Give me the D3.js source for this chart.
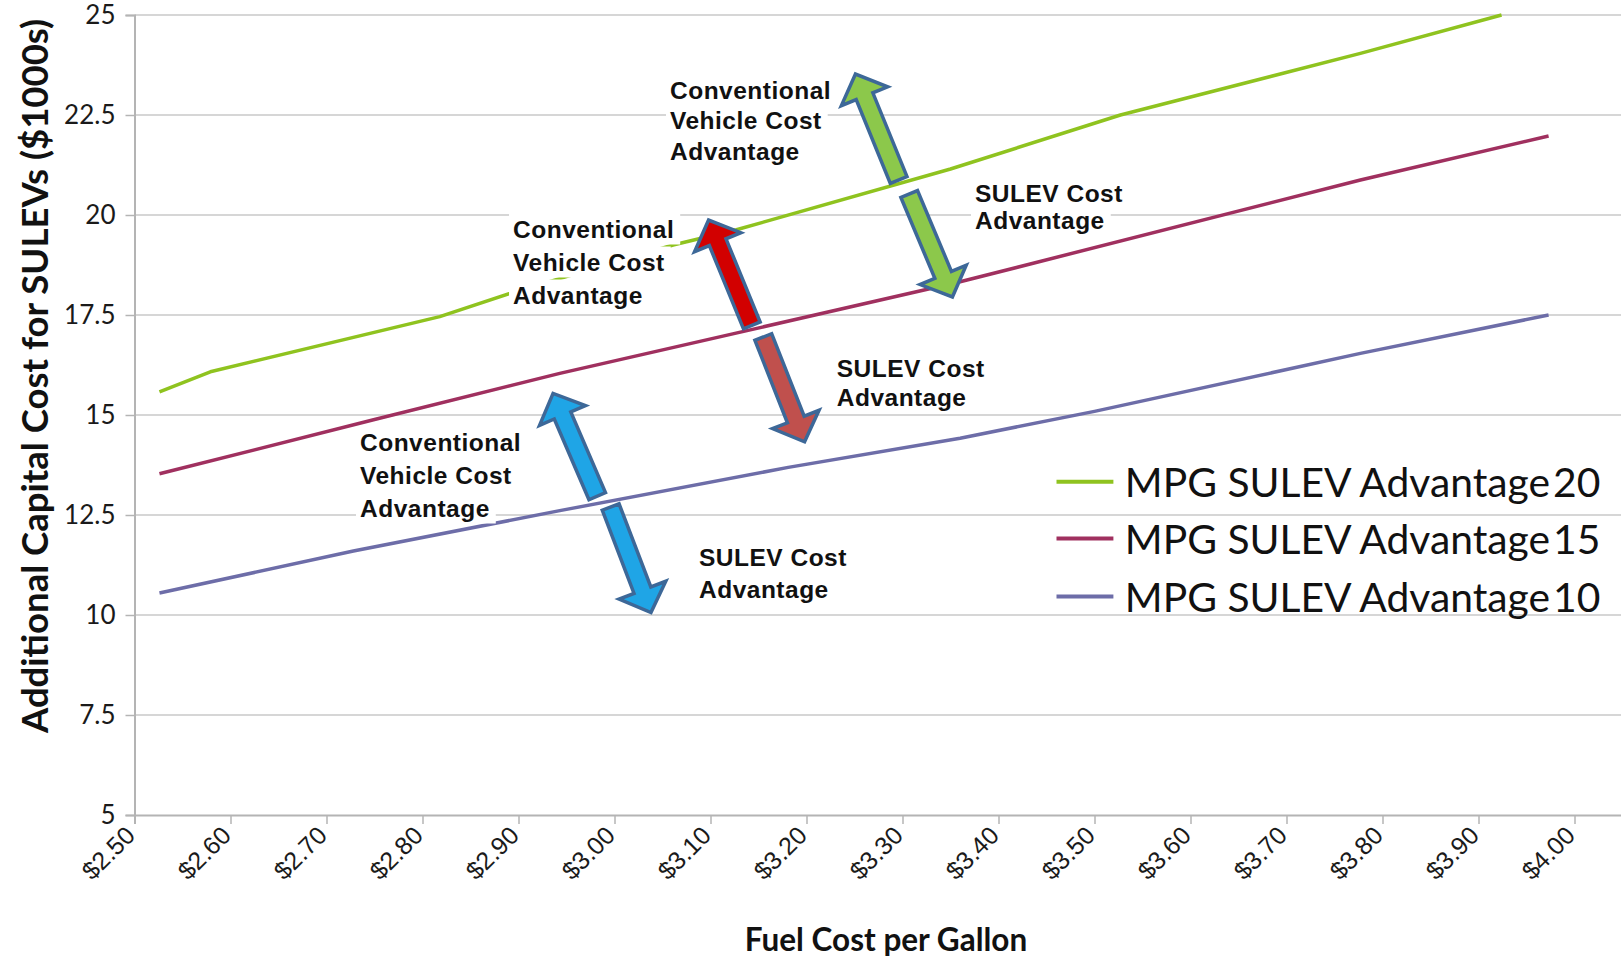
<!DOCTYPE html>
<html>
<head>
<meta charset="utf-8">
<script src="https://cdn.jsdelivr.net/npm/d3@7"></script>
<style>
  html, body { margin: 0; padding: 0; background: #fff; }
  svg { display: block; }
</style>
</head>
<body>
<svg id="chart" width="1621" height="958"></svg>
<script>
// ---- data -------------------------------------------------------------
const priceTicks = [2.5, 2.6, 2.7, 2.8, 2.9, 3.0, 3.1, 3.2, 3.3, 3.4, 3.5, 3.6, 3.7, 3.8, 3.9, 4.0];
const costTicks = [5, 7.5, 10, 12.5, 15, 17.5, 20, 22.5, 25];

const mpg20Price = [2.526, 2.579, 2.818, 2.891, 3.061, 3.127, 3.35, 3.527, 3.777, 3.924];
const mpg20Cost  = [15.58, 16.08, 17.46, 18.04, 19.25, 19.63, 21.15, 22.5, 24.04, 25.0];

const mpg15Price = [2.526, 2.749, 2.943, 3.138, 3.36, 3.777, 3.973];
const mpg15Cost  = [13.53, 14.88, 16.04, 17.11, 18.33, 20.875, 21.975];

const mpg10Price = [2.526, 2.728, 2.943, 3.181, 3.36, 3.5, 3.777, 3.973];
const mpg10Cost  = [10.55, 11.6, 12.61, 13.69, 14.42, 15.09, 16.54, 17.5];

const seriesBase = "MPG SULEV Advantage";
const seriesMpg = ["20", "15", "10"];

// annotation arrows: [price, cost] of tail and head
const arrowFrom = [[3.296, 20.875], [3.307, 20.525], [3.143, 17.24], [3.155, 16.95], [2.982, 12.97], [2.996, 12.70]];
const arrowTo   = [[3.251, 23.525], [3.352, 17.95], [3.098, 19.875], [3.198, 14.33], [2.936, 15.54], [3.038, 10.06]];

// annotation notes: text lines, anchored at [price, cost] of first baseline
const noteLines = [
  ["Conventional", "Vehicle Cost", "Advantage"],
  ["Conventional", "Vehicle Cost", "Advantage"],
  ["Conventional", "Vehicle Cost", "Advantage"],
  ["SULEV Cost", "Advantage"],
  ["SULEV Cost", "Advantage"],
  ["SULEV Cost", "Advantage"]
];
const noteAt = [[3.0578, 22.9125], [2.8943, 19.4375], [2.7349, 14.1125], [3.3755, 20.33], [3.2315, 15.95], [3.088, 11.225]];

// ---- layout & style ---------------------------------------------------
const lineColors = ["#8fc31f", "#a0305f", "#6d6da8"];
const arrowFills = ["#8cc84b", "#8cc84b", "#d20000", "#c0504d", "#1fa5e6", "#1fa5e6"];
const noteLeading = [30.5, 33, 33, 27, 29, 32];

const svg = d3.select("#chart");
const plotLeft = 134.5, plotTop = 15, plotBottom = 815, plotRight = 1621;

const x = d3.scaleLinear().domain([2.5, 4.05]).range([plotLeft, plotLeft + 1.55 * 960]);
const y = d3.scaleLinear().domain([5, 25]).range([plotBottom, plotTop]);

// gridlines
svg.append("g")
  .selectAll("line")
  .data(costTicks.filter(d => d > 5))
  .join("line")
  .attr("x1", plotLeft).attr("x2", plotRight)
  .attr("y1", d => y(d)).attr("y2", d => y(d))
  .attr("stroke", "#c9c9c9").attr("stroke-width", 1.5);

// y axis
const yAxis = svg.append("g")
  .attr("transform", `translate(${plotLeft},0)`)
  .call(d3.axisLeft(y).tickValues(costTicks).tickSize(9).tickPadding(10).tickFormat(d3.format("")));
yAxis.select(".domain").attr("stroke", "#b4b4b4").attr("stroke-width", 2);
yAxis.selectAll(".tick line").attr("stroke", "#b4b4b4").attr("stroke-width", 1.5);
yAxis.selectAll(".tick text")
  .attr("font-family", "Lato, 'Open Sans', sans-serif")
  .attr("font-size", 26).attr("fill", "#1a1a1a");

// x axis
const xAxis = svg.append("g")
  .attr("transform", `translate(0,${plotBottom})`)
  .call(d3.axisBottom(x).tickValues(priceTicks).tickSize(9).tickFormat(() => ""));
xAxis.select(".domain").attr("stroke", "#b4b4b4").attr("stroke-width", 2);
xAxis.selectAll(".tick line").attr("stroke", "#b4b4b4").attr("stroke-width", 1.5);

svg.append("g")
  .selectAll("text")
  .data(priceTicks)
  .join("text")
  .attr("transform", d => `translate(${x(d) + 2},${plotBottom + 22}) rotate(-45)`)
  .attr("text-anchor", "end")
  .attr("font-family", "'Liberation Sans', Arial, sans-serif")
  .attr("font-size", 25).attr("fill", "#1a1a1a")
  .text(d => d3.format("$.2f")(d));

// axis titles
svg.append("text")
  .attr("x", 886).attr("y", 951)
  .attr("text-anchor", "middle")
  .attr("font-family", "Lato, sans-serif").attr("font-weight", 700)
  .attr("font-size", 31.5).attr("fill", "#111")
  .text("Fuel Cost per Gallon");

svg.append("text")
  .attr("transform", "translate(48,376) rotate(-90)")
  .attr("text-anchor", "middle")
  .attr("font-family", "Lato, sans-serif").attr("font-weight", 700)
  .attr("font-size", 36.5).attr("fill", "#111")
  .text("Additional Capital Cost for SULEVs ($1000s)");

// series lines
const series = [
  d3.zip(mpg20Price, mpg20Cost),
  d3.zip(mpg15Price, mpg15Cost),
  d3.zip(mpg10Price, mpg10Cost)
];
const line = d3.line().x(d => x(d[0])).y(d => y(d[1]));
svg.append("g")
  .selectAll("path")
  .data(series)
  .join("path")
  .attr("d", line)
  .attr("fill", "none")
  .attr("stroke", (d, i) => lineColors[i])
  .attr("stroke-width", 3.5)
  .attr("stroke-linejoin", "round");

// block arrows
function blockArrow(from, to) {
  const x1 = x(from[0]), y1 = y(from[1]), x2 = x(to[0]), y2 = y(to[1]);
  const L = Math.hypot(x2 - x1, y2 - y1);
  const ux = (x2 - x1) / L, uy = (y2 - y1) / L, px = -uy, py = ux;
  const sw = 9, hw = 25, hl = 24;
  const bx = x2 - ux * hl, by = y2 - uy * hl;
  const pts = [
    [x1 + px * sw, y1 + py * sw],
    [bx + px * sw, by + py * sw],
    [bx + px * hw, by + py * hw],
    [x2, y2],
    [bx - px * hw, by - py * hw],
    [bx - px * sw, by - py * sw],
    [x1 - px * sw, y1 - py * sw]
  ];
  return "M" + pts.map(p => p.join(",")).join("L") + "Z";
}
svg.append("g")
  .selectAll("path")
  .data(d3.range(arrowFrom.length))
  .join("path")
  .attr("d", i => blockArrow(arrowFrom[i], arrowTo[i]))
  .attr("fill", i => arrowFills[i])
  .attr("stroke", "#3d6898")
  .attr("stroke-width", 3.5)
  .attr("stroke-linejoin", "miter");

// text notes with opaque backing per line
const notes = svg.append("g");
noteLines.forEach((lines, i) => {
  const nx = x(noteAt[i][0]), ny = y(noteAt[i][1]);
  const g = notes.append("g");
  lines.forEach((t, j) => {
    const by = ny + j * noteLeading[i];
    const rect = g.append("rect").attr("fill", "#fff");
    const txt = g.append("text")
      .attr("x", nx).attr("y", by)
      .attr("font-family", "'Liberation Sans', Arial, sans-serif")
      .attr("font-weight", 700).attr("font-size", 24.5)
      .attr("letter-spacing", 0.5)
      .attr("fill", "#111")
      .text(t);
    const w = txt.node().getComputedTextLength();
    rect.attr("x", nx - 4).attr("y", by - 24).attr("width", w + 10).attr("height", 31);
  });
});

// legend
const legend = svg.append("g");
const legendY = [481.7, 538.6, 596.5];
seriesMpg.forEach((m, i) => {
  legend.append("line")
    .attr("x1", 1056.5).attr("x2", 1113.4)
    .attr("y1", legendY[i]).attr("y2", legendY[i])
    .attr("stroke", lineColors[i]).attr("stroke-width", 4);
  const t = legend.append("text")
    .attr("x", 1124.8).attr("y", legendY[i] + 15)
    .attr("font-family", "Lato, sans-serif")
    .attr("font-size", 40.8).attr("fill", "#111")
    .text(seriesBase);
  t.append("tspan").attr("dx", 3).text(m);
});
</script>
</body>
</html>
